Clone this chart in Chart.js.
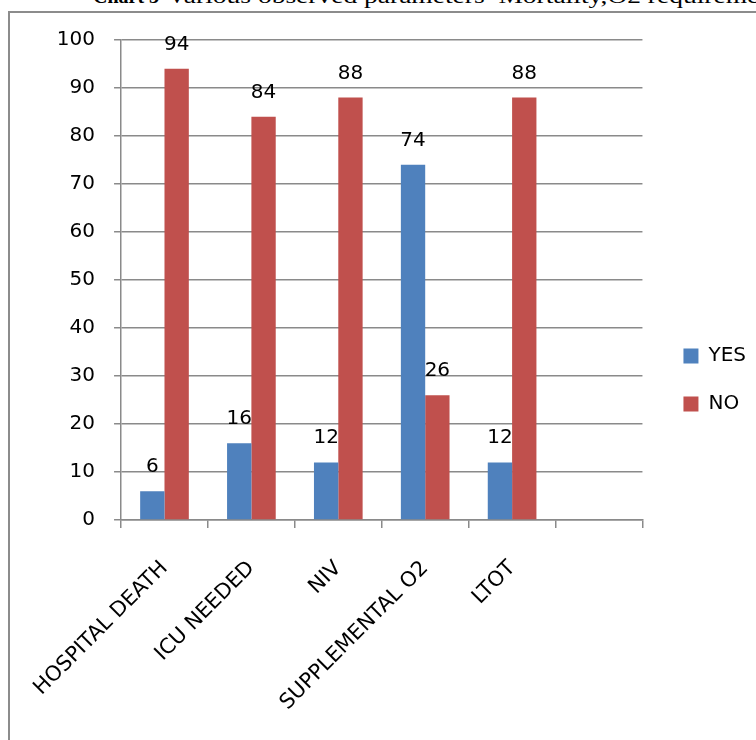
<!DOCTYPE html>
<html>
<head>
<meta charset="utf-8">
<script src="https://cdn.jsdelivr.net/npm/chart.js@4"></script>
<style>
  html, body { margin: 0; padding: 0; background: #fff; overflow: hidden; }
  body { width: 756px; height: 740px; position: relative; }
  #frame { position: absolute; left: 8px; top: 11px; width: 900px; height: 900px;
           border-left: 2px solid #8c8c8c; border-top: 2px solid #8c8c8c; }
  #title { position: absolute; left: 93px; top: -15px; white-space: nowrap;
           font-family: "Liberation Serif", "Times New Roman", serif; line-height: 22px; color: #000; }
  #title b { font-size: 20px; }
  #title span { display: inline-block; font-size: 22px; transform: scaleX(1.25); transform-origin: left; margin-left: 8px; }
  #wrap { position: absolute; left: 0; top: 0; width: 756px; height: 740px; }
</style>
</head>
<body>
<div id="frame"></div>
<div id="title"><b>Chart 3</b><span>Various observed parameters&nbsp; Mortality,O2 requirement</span></div>
<div id="wrap"><canvas id="chart"></canvas></div>
<script>
const categories = ["HOSPITAL DEATH", "ICU NEEDED", "NIV", "SUPPLEMENTAL O2", "LTOT", ""];
const yesValues = [6, 16, 12, 74, 12, null];
const noValues = [94, 84, 88, 26, 88, null];
const yTicks = [0, 10, 20, 30, 40, 50, 60, 70, 80, 90, 100];

const fontName = '"DejaVu Sans", sans-serif';
const gridGray = "#8a8a8a";

// value labels above each bar
const valueLabels = {
  id: "valueLabels",
  afterDatasetsDraw(chart) {
    const ctx = chart.ctx;
    ctx.save();
    ctx.font = "20px " + fontName;
    ctx.fillStyle = "#000";
    ctx.textAlign = "center";
    ctx.textBaseline = "alphabetic";
    chart.data.datasets.forEach((ds, i) => {
      chart.getDatasetMeta(i).data.forEach((bar, j) => {
        if (ds.data[j] == null) return;
        ctx.fillText(ds.data[j], bar.x, bar.y - 19);
      });
    });
    ctx.restore();
  }
};

const data = {
  labels: categories,
  datasets: [
    { label: "YES", data: yesValues, backgroundColor: "#4F81BD" },
    { label: "NO", data: noValues, backgroundColor: "#C0504D" }
  ]
};

const config = {
  type: "bar",
  data: data,
  plugins: [valueLabels],
  options: {
    responsive: false,
    animation: false,
    devicePixelRatio: 1,
    categoryPercentage: 0.56,
    barPercentage: 1.0,
    layout: { padding: { left: 0, top: 40, right: 0, bottom: 20 } },
    plugins: {
      title: { display: false },
      tooltip: { enabled: false },
      legend: {
        position: "right",
        labels: {
          boxWidth: 15,
          boxHeight: 15,
          padding: 28,
          color: "#000",
          font: { family: fontName, size: 20 }
        }
      }
    },
    scales: {
      x: {
        grid: { offset: true, drawOnChartArea: false, tickLength: 8, color: gridGray, lineWidth: 1.5 },
        border: { color: gridGray, width: 1.5 },
        ticks: {
          minRotation: 45,
          maxRotation: 45,
          autoSkip: false,
          padding: 28,
          color: "#000",
          font: { family: fontName, size: 21 }
        },
        afterFit: (s) => { s.height = 200; }
      },
      y: {
        min: 0,
        max: 100,
        afterBuildTicks: (s) => { s.ticks = yTicks.map((v) => ({ value: v })); },
        grid: { tickLength: 7, color: gridGray, lineWidth: 1.5 },
        border: { color: gridGray, width: 1.5 },
        ticks: {
          padding: 19,
          color: "#000",
          font: { family: fontName, size: 20 }
        },
        afterFit: (s) => { s.width = 117; }
      },
      yRight: {
        position: "right",
        display: true,
        grid: { display: false },
        border: { display: false },
        ticks: { display: false },
        afterFit: (s) => { s.width = 13; }
      }
    }
  }
};

const canvas = document.getElementById("chart");
canvas.width = 756;
canvas.height = 740;
canvas.style.width = "756px";
canvas.style.height = "740px";
new Chart(canvas, config);
</script>
</body>
</html>
